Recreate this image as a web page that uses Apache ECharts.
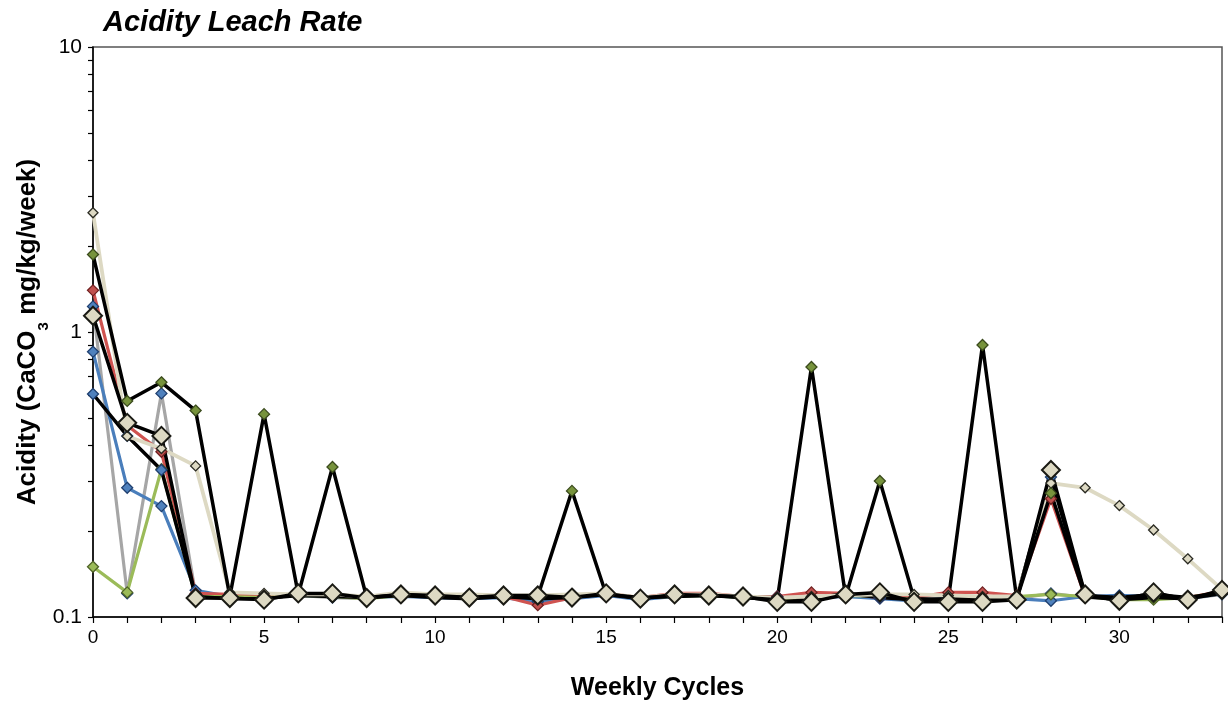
<!DOCTYPE html>
<html>
<head>
<meta charset="utf-8">
<script src="https://cdn.jsdelivr.net/npm/echarts@6/dist/echarts.min.js"></script>
<style>
  html, body { margin: 0; padding: 0; background: #fff; }
  #chart { width: 1228px; height: 706px; }
</style>
</head>
<body>
<div id="chart"></div>
<script>
// Weekly cycles 0..33
const cycles = Array.from({ length: 34 }, (_, i) => i);

// Acidity leach rate per cell, CaCO3 mg/kg/week
const cellBlue = [0.853, 0.284, 0.245, 0.124, 0.118, 0.117, 0.119, 0.118, 0.117, 0.118, 0.117, 0.116, 0.117, 0.113, 0.116, 0.119, 0.115, 0.118, 0.119, 0.117, 0.118, 0.117, 0.118, 0.116, 0.114, 0.116, 0.117, 0.116, 0.114, 0.118, 0.119, 0.118, 0.116, 0.121];
const cellRed = [1.40, 0.47, 0.38, 0.121, 0.120, 0.119, 0.120, 0.119, 0.117, 0.119, 0.118, 0.118, 0.118, 0.110, 0.117, 0.121, 0.117, 0.121, 0.121, 0.118, 0.118, 0.122, 0.121, 0.117, 0.117, 0.122, 0.122, 0.119, 0.26, 0.118, 0.116, 0.119, 0.117, 0.123];
const cellGreen = [0.150, 0.122, 0.33, 0.118, 0.118, 0.117, 0.119, 0.118, 0.116, 0.119, 0.118, 0.117, 0.118, 0.118, 0.118, 0.120, 0.117, 0.118, 0.119, 0.117, 0.116, 0.117, 0.119, 0.118, 0.115, 0.115, 0.116, 0.118, 0.120, 0.118, 0.115, 0.115, 0.117, 0.122];
const cellGrey = [1.23, 0.121, 0.609, 0.120, 0.117, 0.118, 0.119, 0.117, 0.116, 0.120, 0.118, 0.117, 0.118, 0.117, 0.116, 0.120, 0.116, 0.119, 0.120, 0.117, 0.116, 0.116, 0.118, 0.117, 0.115, 0.115, 0.116, 0.116, 0.121, 0.117, 0.116, 0.118, 0.116, 0.120];
const cellSpiky = [1.87, 0.573, 0.666, 0.53, 0.118, 0.515, 0.120, 0.336, 0.117, 0.120, 0.118, 0.117, 0.118, 0.118, 0.277, 0.120, 0.117, 0.118, 0.119, 0.117, 0.115, 0.754, 0.118, 0.30, 0.116, 0.115, 0.90, 0.116, 0.272, 0.118, 0.115, 0.117, 0.116, 0.121];
const cellDark = [0.606, 0.432, 0.328, 0.118, 0.116, 0.116, 0.119, 0.118, 0.117, 0.119, 0.117, 0.116, 0.118, 0.116, 0.117, 0.120, 0.116, 0.119, 0.120, 0.117, 0.117, 0.116, 0.121, 0.117, 0.115, 0.116, 0.116, 0.117, 0.31, 0.119, 0.117, 0.120, 0.117, 0.122];
const cellBeige = [2.62, 0.431, 0.39, 0.339, 0.122, 0.121, 0.120, 0.120, 0.118, 0.122, 0.120, 0.120, 0.119, 0.119, 0.120, 0.121, 0.117, 0.120, 0.120, 0.118, 0.117, 0.118, 0.119, 0.120, 0.120, 0.119, 0.118, 0.118, 0.295, 0.284, 0.246, 0.202, 0.160, 0.125];
const cellMain = [1.14, 0.48, 0.432, 0.1166, 0.1166, 0.115, 0.121, 0.121, 0.1166, 0.120, 0.119, 0.117, 0.119, 0.119, 0.117, 0.121, 0.116, 0.120, 0.119, 0.118, 0.113, 0.113, 0.120, 0.122, 0.113, 0.113, 0.113, 0.115, 0.328, 0.120, 0.114, 0.122, 0.115, 0.1245];

// y-axis ticks: decades plus log minor positions
const yTicks = [];
[0.1, 1].forEach(d => { for (let k = 1; k <= 9; k++) yTicks.push(+(d * k).toPrecision(3)); });
yTicks.push(10);
const yLabels = [0.1, 1, 10];

function pairs(vals) { return cycles.map((c, i) => [c, vals[i]]); }

function mk(name, vals, lineColor, lineWidth, fill, border, size, borderWidth) {
  return {
    name, type: 'line', data: pairs(vals),
    symbol: 'diamond', symbolSize: size,
    lineStyle: { color: lineColor, width: lineWidth },
    itemStyle: { color: fill, borderColor: border, borderWidth: borderWidth },
    showSymbol: true, animation: false, emphasis: { disabled: true }
  };
}

const series = [
  mk('Grey', cellGrey, '#A6A6A6', 3.2, '#4F81BD', '#1F3F6F', [11, 11], 1.3),
  mk('Blue', cellBlue, '#4A7EBB', 3.2, '#4F81BD', '#1F3F6F', [11, 11], 1.3),
  mk('Red', cellRed, '#CF5350', 3.2, '#C0504D', '#6F2020', [11, 11], 1.3),
  mk('Green', cellGreen, '#9BBB59', 3.2, '#9BBB59', '#4F6228', [11, 11], 1.3),
  mk('Dark', cellDark, '#000000', 3.5, '#4F81BD', '#1F3F6F', [11, 11], 1.3),
  mk('Beige', cellBeige, '#DDD9C3', 3.8, '#DDD9C3', '#2a2a22', [10, 10], 1.3),
  mk('Spiky', cellSpiky, '#000000', 3.5, '#77933C', '#3A4A1C', [11, 11], 1.3),
  mk('Main', cellMain, '#000000', 3.5, '#DDD9C3', '#1a1a14', [18, 18], 2)
];

const font = 'Liberation Sans, Arial, sans-serif';
const chart = echarts.init(document.getElementById('chart'), null, { renderer: 'canvas' });
chart.setOption({
  animation: false,
  backgroundColor: '#ffffff',
  textStyle: { fontFamily: font },
  title: {
    text: 'Acidity Leach Rate', left: 98, top: 3,
    textStyle: { fontSize: 29, fontWeight: 'bold', fontStyle: 'italic', color: '#000', fontFamily: font }
  },
  grid: {
    left: 93, right: 6, top: 47, bottom: 89, containLabel: false, outerBoundsMode: 'none',
    show: true, borderColor: '#555', borderWidth: 1.5, backgroundColor: 'transparent'
  },
  xAxis: {
    type: 'value', min: 0, max: 33, interval: 1,
    name: 'Weekly Cycles', nameLocation: 'middle', nameGap: 59,
    nameTextStyle: { fontSize: 25, fontWeight: 'bold', color: '#000' },
    axisLine: { show: true, onZero: false, lineStyle: { color: '#000', width: 1.5 } },
    axisTick: { show: true, length: 6, lineStyle: { color: '#000', width: 1.2 } },
    axisLabel: { fontSize: 19, color: '#000', margin: 11, formatter: v => (v % 5 === 0 ? String(v) : '') },
    splitLine: { show: false }
  },
  yAxis: {
    type: 'log', logBase: 10, min: 0.1, max: 10,
    name: 'Acidity (CaCO{sub|3} mg/kg/week)', nameLocation: 'middle', nameGap: 52, nameMoveOverlap: false,
    nameTextStyle: {
      fontSize: 26, fontWeight: 'bold', color: '#000',
      rich: { sub: { fontSize: 15, fontWeight: 'bold', color: '#000', verticalAlign: 'bottom', padding: [0, 0, -10, 0] } }
    },
    axisLine: { show: true, onZero: false, lineStyle: { color: '#000', width: 1.5 } },
    axisTick: { show: true, length: 5, customValues: yTicks, lineStyle: { color: '#000', width: 1.2 } },
    axisLabel: { fontSize: 21, color: '#000', margin: 11, customValues: yLabels, formatter: v => String(+v.toPrecision(3)) },
    splitLine: { show: false }
  },
  series
});
</script>
</body>
</html>
